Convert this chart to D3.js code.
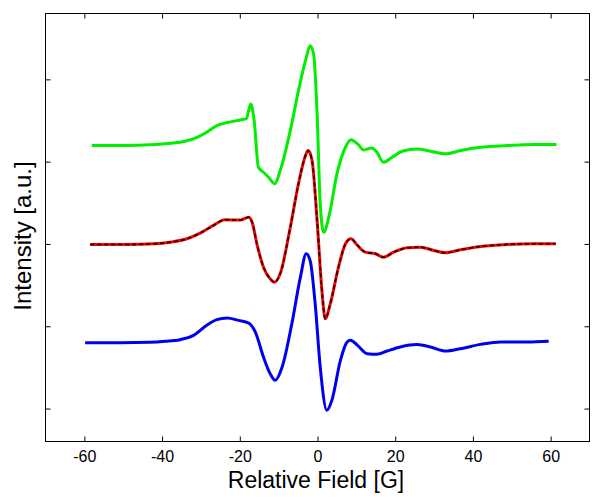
<!DOCTYPE html>
<html>
<head>
<meta charset="utf-8">
<script src="https://cdn.jsdelivr.net/npm/d3@7"></script>
<style>
	body { margin: 0; background: #fff; }
	svg { display: block; font-family: "Liberation Sans", Arial, sans-serif; }
	.axis line { stroke: #000; }
	.axis text { font-size: 16px; fill: #000; }
</style>
</head>
<body>
<div class="chart"></div>
<script>

// field values [G] and intensities (already offset) for each trace
var greenField = [-58.1, -49.1, -43.1, -37.9, -34.1, -31.0, -28.5, -25.9, -23.3, -19.9, -18.3, -17.2, -16.3, -15.2, -13.9, -12.6, -11.0, -9.6, -7.0, -4.9, -3.1, -1.9, -1.0, -0.1, 0.7, 1.6, 2.9, 5.0, 7.2, 8.6, 10.3, 11.9, 14.0, 15.3, 17.0, 19.2, 21.8, 25.6, 29.1, 33.0, 36.8, 42.0, 48.8, 55.7, 61.5];
var greenValues = [1.195, 1.195, 1.204, 1.223, 1.248, 1.296, 1.357, 1.438, 1.475, 1.507, 1.523, 1.701, 1.499, 0.932, 0.871, 0.811, 0.731, 0.892, 1.377, 1.863, 2.227, 2.409, 2.308, 1.580, 0.488, 0.143, 0.325, 0.852, 1.175, 1.265, 1.216, 1.143, 1.167, 1.114, 0.993, 1.053, 1.126, 1.155, 1.126, 1.095, 1.135, 1.175, 1.195, 1.208, 1.208];

var redField = [-58.5, -49.1, -42.2, -37.9, -33.6, -30.2, -26.8, -23.8, -19.9, -17.7, -16.8, -15.6, -13.9, -12.2, -11.1, -9.6, -7.0, -4.9, -3.1, -2.4, -1.4, -0.1, 1.2, 2.0, 3.3, 5.4, 7.2, 8.6, 10.3, 12.3, 14.9, 17.0, 19.6, 23.1, 26.5, 29.9, 32.9, 36.8, 42.0, 48.8, 55.7, 61.3];
var redValues = [-0.006, -0.006, 0.002, 0.022, 0.063, 0.131, 0.225, 0.294, 0.291, 0.325, 0.261, 0.002, -0.282, -0.422, -0.464, -0.362, 0.204, 0.731, 1.074, 1.135, 1.013, 0.285, -0.604, -0.908, -0.726, -0.282, 0.002, 0.063, -0.018, -0.1, -0.119, -0.160, -0.1, -0.046, -0.039, -0.079, -0.107, -0.070, -0.030, -0.006, 0.002, 0.002];

var blueField = [-59.8, -50.8, -43.1, -39.2, -35.4, -31.9, -28.5, -25.9, -23.3, -20.3, -17.7, -16.0, -13.9, -12.2, -10.9, -9.1, -6.6, -4.4, -2.9, -1.9, -0.6, 0.7, 2.4, 3.7, 5.9, 7.6, 8.5, 10.3, 12.8, 15.3, 17.9, 21.3, 25.6, 29.1, 33.0, 36.8, 42.0, 47.2, 54.0, 59.5];
var blueValues = [-1.201, -1.201, -1.195, -1.183, -1.163, -1.110, -0.989, -0.920, -0.900, -0.928, -0.961, -1.070, -1.374, -1.575, -1.657, -1.495, -0.968, -0.403, -0.119, -0.2, -0.726, -1.495, -2.021, -1.899, -1.414, -1.192, -1.171, -1.232, -1.333, -1.341, -1.301, -1.252, -1.223, -1.252, -1.301, -1.272, -1.220, -1.192, -1.192, -1.183];

var xTicks = [-60, -40, -20, 0, 20, 40, 60];
var yTicks = [-2, -1, 0, 1, 2];

var spectrum = (function() {

	var width = 600, height = 502;
	var left = 45.5, right = 589.5, top = 13.5, bottom = 441.5;

	var x = d3.scaleLinear().domain([-70, 70]).range([left, right]);
	var y = d3.scaleLinear().domain([-2.4, 2.8]).range([bottom, top]);

	var init = function() {
		var svg = d3.select('.chart')
					.append('svg')
					.attr('width', width)
					.attr('height', height);

		drawAxes(svg);
		drawTrace(svg, greenField, greenValues, '#00ee00', 3, null);
		drawTrace(svg, redField, redValues, '#ff0000', 3, null);
		drawTrace(svg, redField, redValues, '#000', 1.6, '4,3');
		drawTrace(svg, blueField, blueValues, '#0000ee', 3, null);
	};

	var drawTrace = function(svg, fields, values, color, w, dash) {
		var pts = fields.map(function(f, i) { return [f, values[i]]; });
		var line = d3.line()
					.x(function(d) { return x(d[0]); })
					.y(function(d) { return y(d[1]); })
					.curve(d3.curveMonotoneX);

		svg.append('path')
			.datum(pts)
			.attr('fill', 'none')
			.attr('stroke', color)
			.attr('stroke-width', w)
			.attr('stroke-linejoin', 'round')
			.attr('stroke-dasharray', dash)
			.attr('d', line);
	};

	var drawAxes = function(svg) {
		svg.append('g').attr('class', 'axis')
			.attr('transform', 'translate(0,' + bottom + ')')
			.call(d3.axisBottom(x).tickValues(xTicks).tickSizeInner(-5).tickSizeOuter(0)
				.tickPadding(9).tickFormat(function(d) { return String(d); }));

		svg.append('g').attr('class', 'axis')
			.attr('transform', 'translate(0,' + top + ')')
			.call(d3.axisTop(x).tickValues(xTicks).tickSizeInner(-5).tickSizeOuter(0).tickFormat(''));

		svg.append('g').attr('class', 'axis')
			.attr('transform', 'translate(' + left + ',0)')
			.call(d3.axisLeft(y).tickValues(yTicks).tickSizeInner(-5).tickSizeOuter(0).tickFormat(''));

		svg.append('g').attr('class', 'axis')
			.attr('transform', 'translate(' + right + ',0)')
			.call(d3.axisRight(y).tickValues(yTicks).tickSizeInner(-5).tickSizeOuter(0).tickFormat(''));

		svg.selectAll('.axis .domain').remove();

		svg.append('rect')
			.attr('x', left).attr('y', top)
			.attr('width', right - left).attr('height', bottom - top)
			.attr('fill', 'none').attr('stroke', '#000');

		svg.append('text')
			.attr('x', 316).attr('y', 488)
			.attr('text-anchor', 'middle')
			.style('font-size', '23px')
			.text('Relative Field [G]');

		svg.append('text')
			.attr('transform', 'translate(31,236) rotate(-90)')
			.attr('text-anchor', 'middle')
			.style('font-size', '24px')
			.text('Intensity [a.u.]');
	};

	return {
		'init': init
	};

})();

spectrum.init();
</script>
</body>
</html>
